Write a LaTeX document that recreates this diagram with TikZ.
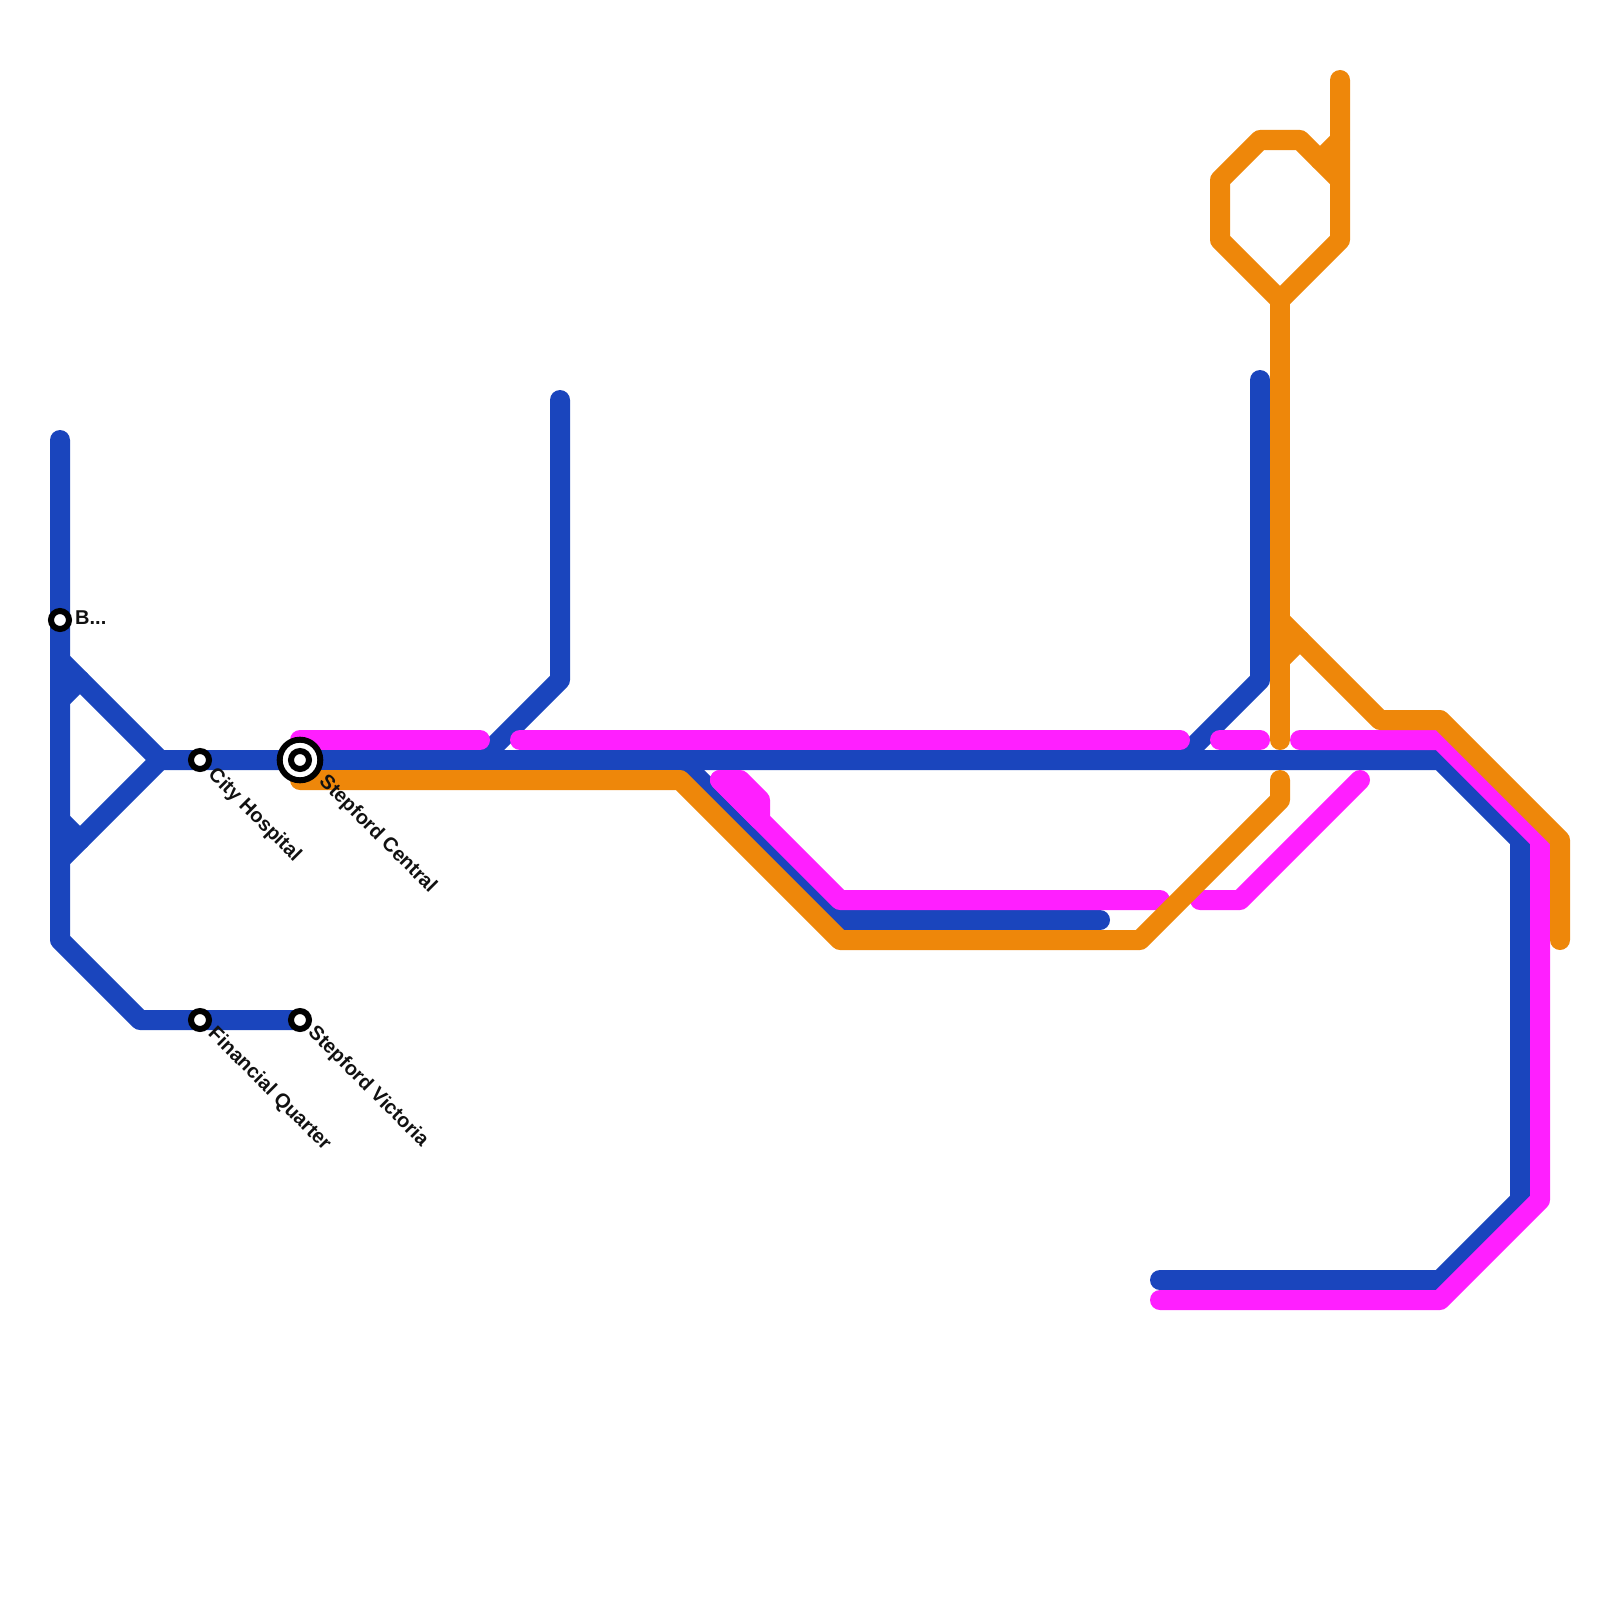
\documentclass[tikz,border=0pt]{standalone}
\usepackage{fontspec}
\setmainfont{Liberation Sans}
\definecolor{lineblue}{HTML}{1A45BD}
\definecolor{linepink}{HTML}{FF1FFF}
\definecolor{lineorange}{HTML}{EE870A}
\definecolor{labelink}{HTML}{111111}
\tikzset{
  route/.style={line width=20pt,line cap=round,line join=round},
  blueroute/.style={route,draw=lineblue},
  pinkroute/.style={route,draw=linepink},
  orangeroute/.style={route,draw=lineorange},
  halt/.style={circle,draw=black,fill=white,line width=6pt,minimum size=18pt,inner sep=0pt},
  hubouter/.style={circle,draw=black,fill=white,line width=6pt,minimum size=40.6pt,inner sep=0pt},
  stationlabel/.style={font=\bfseries\fontsize{20}{22}\selectfont,text=labelink,inner sep=0pt,anchor=west},
  slanted/.style={stationlabel,rotate=-45},
}
\begin{document}
\begin{tikzpicture}[x=1pt,y=-1pt]
\useasboundingbox (0,0) rectangle (1600,1600);
% junction and end coordinates
\coordinate (bnj) at (60,660);
\coordinate (bsj) at (60,860);
\coordinate (bhub) at (160,760);
\coordinate (sc) at (300,760);
\coordinate (ch) at (200,760);
\coordinate (bs) at (60,620);
\coordinate (fq) at (200,1020);
\coordinate (sv) at (300,1020);
\coordinate (bturn) at (1440,760);
\coordinate (osplit) at (1280,620);
\coordinate (ohex) at (1280,300);
% blue
\draw[blueroute] (60,440) -- (bs) -- (bnj) -- (bsj) -- (60,940) -- (140,1020) -- (fq) -- (sv);
\draw[blueroute] (bnj) -- (bhub) -- (ch) -- (sc) -- (bturn) -- (1520,840) -- (1520,1200) -- (1440,1280) -- (1160,1280);
\draw[blueroute] (bsj) -- (bhub);
\draw[blueroute] (60,700) -- (80,680);
\draw[blueroute] (60,820) -- (80,840);
\draw[blueroute] (560,400) -- (560,680) -- (480,760);
\draw[blueroute] (1260,380) -- (1260,680) -- (1180,760);
\draw[blueroute] (680,760) -- (840,920) -- (1100,920);
% pink
\draw[pinkroute] (sc |- 0,740) -- (480,740);
\draw[pinkroute] (520,740) -- (1180,740);
\draw[pinkroute] (1220,740) -- (1260,740);
\draw[pinkroute] (1300,740) -- (1440,740) -- (1540,840) -- (1540,1200) -- (1440,1300) -- (1160,1300);
\draw[pinkroute] (760,820) -- (760,800) -- (740,780) -- (720,780) -- (840,900) -- (1160,900);
\draw[pinkroute] (760,820) -- (720,780);
\draw[pinkroute] (1200,900) -- (1240,900) -- (1360,780);
% orange
\draw[orangeroute] (sc |- 0,780) -- (680,780) -- (840,940) -- (1140,940) -- (1280,800) -- (1280,780);
\draw[orangeroute] (1340,80) -- (1340,240) -- (ohex) -- (1220,240) -- (1220,180) -- (1260,140) -- (1300,140) -- (1340,180);
\draw[orangeroute] (ohex) -- (osplit) -- (1280,740);
\draw[orangeroute] (1320,160) -- (1340,140);
\draw[orangeroute] (osplit) -- (1380,720) -- (1440,720) -- (1560,840) -- (1560,940);
\draw[orangeroute] (1280,660) -- (1300,640);
% stations
\node[halt] (nbs) at (bs) {};
\node[halt] (nch) at (ch) {};
\node[halt] (nfq) at (fq) {};
\node[halt] (nsv) at (sv) {};
\node[hubouter] (nsc) at (sc) {};
\node[halt] (nsci) at (sc) {};
% labels
\node[stationlabel] (lbs) at (75,618) {B...};
\node[slanted] (lch) at (211,772) {City Hospital};
\node[slanted] (lsc) at (322,779) {Stepford Central};
\node[slanted] (lfq) at (211,1031) {Financial Quarter};
\node[slanted] (lsv) at (311,1030) {Stepford Victoria};
\end{tikzpicture}
\end{document}
